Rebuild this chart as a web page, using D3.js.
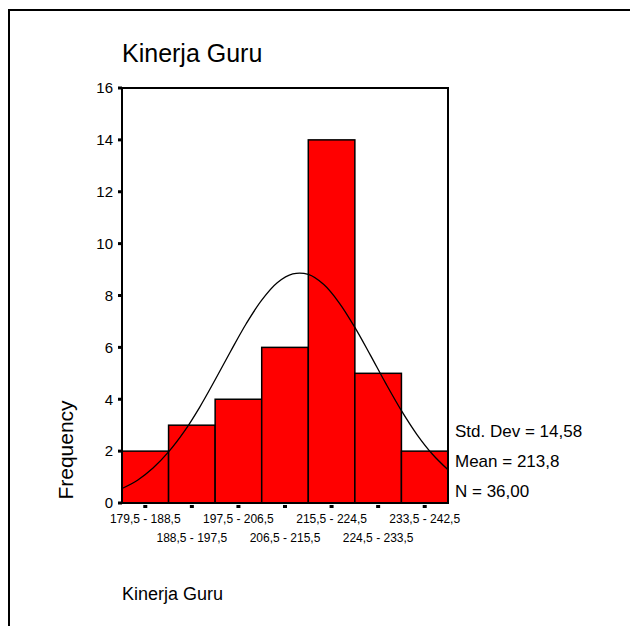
<!DOCTYPE html>
<html>
<head>
<meta charset="utf-8">
<script src="https://cdn.jsdelivr.net/npm/d3@7"></script>
<style>
  body { margin: 0; background: #fff; }
  svg { display: block; }
</style>
</head>
<body>
<div id="chart"></div>
<script>
// histogram bins
const binLabels = ["179,5 - 188,5", "188,5 - 197,5", "197,5 - 206,5", "206,5 - 215,5",
                   "215,5 - 224,5", "224,5 - 233,5", "233,5 - 242,5"];
const binLow = [179.5, 188.5, 197.5, 206.5, 215.5, 224.5, 233.5];
const binHigh = [188.5, 197.5, 206.5, 215.5, 224.5, 233.5, 242.5];
const frequency = [2, 3, 4, 6, 14, 5, 2];

// normal curve
const curveX = [179.5, 182.5, 185.5, 188.5, 191.5, 194.5, 197.5, 200.5, 203.5, 206.5, 209.5,
                212.5, 215.5, 218.5, 221.5, 224.5, 227.5, 230.5, 233.5, 236.5, 239.5, 242.5];
const curveY = [0.56, 0.88, 1.35, 1.97, 2.75, 3.69, 4.75, 5.85, 6.91, 7.82, 8.49,
                8.83, 8.81, 8.42, 7.71, 6.77, 5.70, 4.60, 3.56, 2.64, 1.88, 1.28];

const yTicks = [0, 2, 4, 6, 8, 10, 12, 14, 16];
const statLines = ["Std. Dev = 14,58", "Mean = 213,8", "N = 36,00"];

const W = 630, H = 626;
const plot = {left: 122, right: 448, top: 88, bottom: 503};
const font = "Arial, 'Liberation Sans', sans-serif";

const svg = d3.select("#chart")
    .append("svg")
    .attr("width", W)
    .attr("height", H);

// outer frame (runs off the right and bottom edge)
svg.append("rect")
    .attr("x", 9)
    .attr("y", 10)
    .attr("width", W + 20)
    .attr("height", H + 20)
    .attr("fill", "none")
    .attr("stroke", "#000")
    .attr("stroke-width", 2);

svg.append("text")
    .attr("x", 122)
    .attr("y", 62)
    .attr("font-family", font)
    .attr("font-size", "25px")
    .attr("fill", "#000")
    .text("Kinerja Guru");

const x = d3.scaleLinear()
    .domain([binLow[0], binHigh[binHigh.length - 1]])
    .range([plot.left, plot.right]);

const y = d3.scaleLinear()
    .domain([0, 16])
    .range([plot.bottom, plot.top]);

// bars
svg.append("g")
    .selectAll("rect")
    .data(frequency)
    .join("rect")
    .attr("x", (d, i) => x(binLow[i]))
    .attr("y", d => y(d))
    .attr("width", (d, i) => x(binHigh[i]) - x(binLow[i]))
    .attr("height", d => y(0) - y(d))
    .attr("fill", "#ff0000")
    .attr("stroke", "#000")
    .attr("stroke-width", 1.5);

// normal curve
const line = d3.line()
    .x(d => x(d[0]))
    .y(d => y(d[1]))
    .curve(d3.curveCatmullRom);

svg.append("path")
    .datum(curveX.map((v, i) => [v, curveY[i]]))
    .attr("fill", "none")
    .attr("stroke", "#000")
    .attr("stroke-width", 1.3)
    .attr("d", line);

// plot box
svg.append("rect")
    .attr("x", plot.left)
    .attr("y", plot.top)
    .attr("width", plot.right - plot.left)
    .attr("height", plot.bottom - plot.top)
    .attr("fill", "none")
    .attr("stroke", "#000")
    .attr("stroke-width", 2);

// y axis: square ticks
const yAxis = svg.append("g");
yAxis.selectAll("rect")
    .data(yTicks)
    .join("rect")
    .attr("x", plot.left - 4)
    .attr("y", d => y(d) - 1.5)
    .attr("width", 4)
    .attr("height", 3)
    .attr("fill", "#000");

yAxis.selectAll("text")
    .data(yTicks)
    .join("text")
    .attr("x", plot.left - 9)
    .attr("y", d => y(d))
    .attr("dy", "0.35em")
    .attr("text-anchor", "end")
    .attr("font-family", font)
    .attr("font-size", "15px")
    .text(d => d);

// x axis: square ticks at bin centres, labels on two rows
const xAxis = svg.append("g");
xAxis.selectAll("rect")
    .data(binLabels)
    .join("rect")
    .attr("x", (d, i) => x((binLow[i] + binHigh[i]) / 2) - 2)
    .attr("y", plot.bottom + 2)
    .attr("width", 4)
    .attr("height", 3)
    .attr("fill", "#000");

xAxis.selectAll("text")
    .data(binLabels)
    .join("text")
    .attr("x", (d, i) => x((binLow[i] + binHigh[i]) / 2))
    .attr("y", (d, i) => i % 2 === 0 ? 523 : 542)
    .attr("text-anchor", "middle")
    .attr("font-family", font)
    .attr("font-size", "12px")
    .text(d => d);

// axis titles
svg.append("text")
    .attr("transform", "translate(73,450) rotate(-90)")
    .attr("text-anchor", "middle")
    .attr("font-family", font)
    .attr("font-size", "21px")
    .text("Frequency");

svg.append("text")
    .attr("x", 122)
    .attr("y", 600)
    .attr("font-family", font)
    .attr("font-size", "18px")
    .text("Kinerja Guru");

// statistics
svg.append("g")
    .selectAll("text")
    .data(statLines)
    .join("text")
    .attr("x", 455)
    .attr("y", (d, i) => 437 + i * 30)
    .attr("font-family", font)
    .attr("font-size", "17px")
    .text(d => d);
</script>
</body>
</html>
